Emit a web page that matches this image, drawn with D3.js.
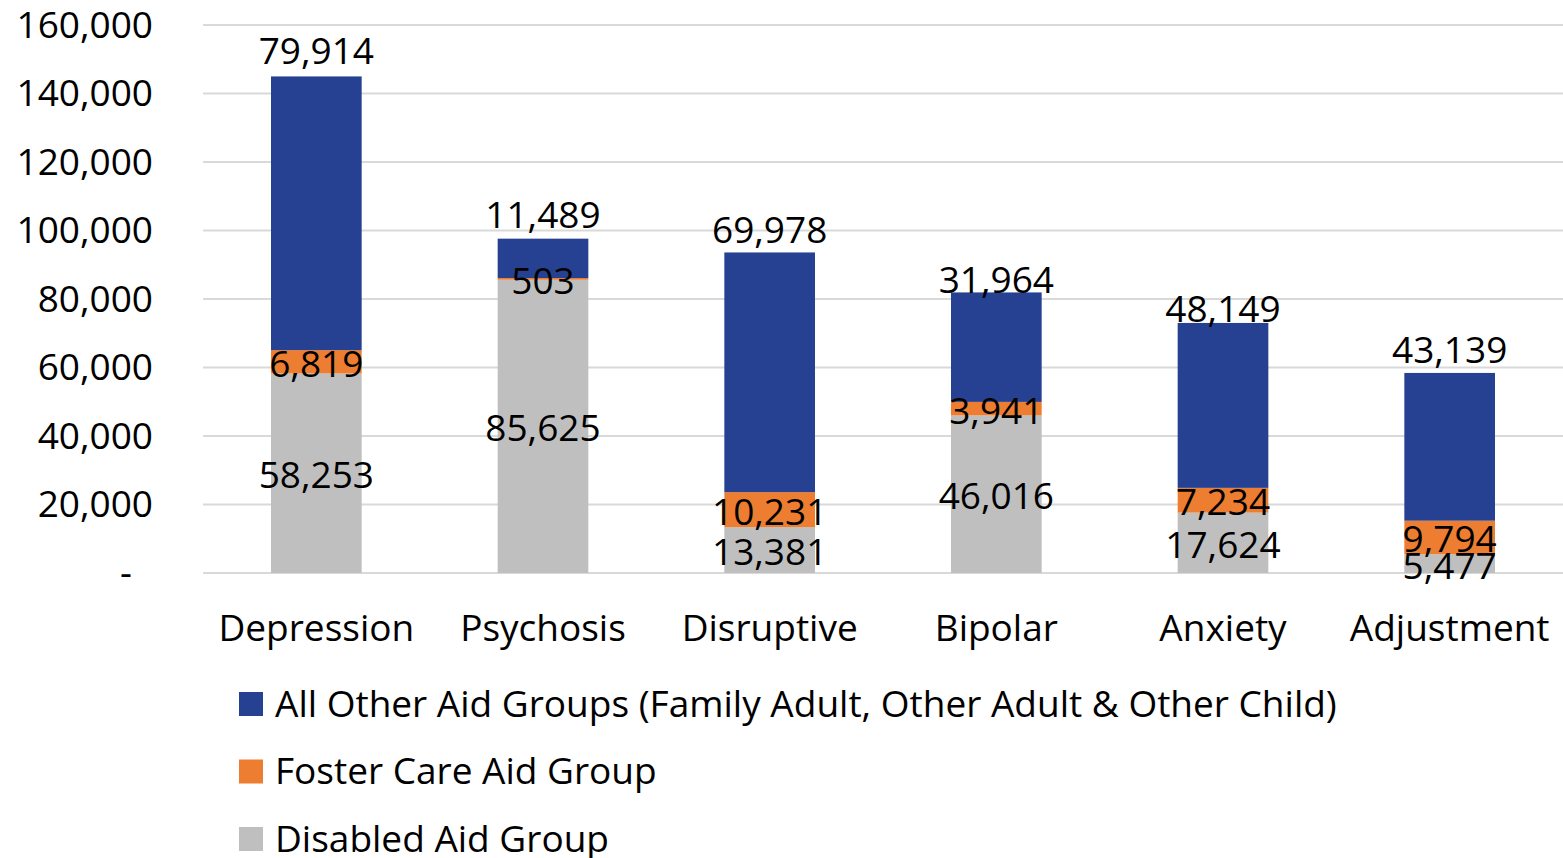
<!DOCTYPE html>
<html><head><meta charset="utf-8">
<script src="https://cdn.jsdelivr.net/npm/d3@7"></script>
<style>body{margin:0;background:#fff}svg{display:block}text{font-family:"Open Sans",Lato,sans-serif;fill:#000}</style>
</head><body><svg id="c" width="1563" height="858"></svg>
<script>
const categories = ["Depression","Psychosis","Disruptive","Bipolar","Anxiety","Adjustment"];
const disabled = [58253,85625,13381,46016,17624,5477];
const foster = [6819,503,10231,3941,7234,9794];
const allOther = [79914,11489,69978,31964,48149,43139];
const yTicks = [0,20000,40000,60000,80000,100000,120000,140000,160000];
const seriesNames = ["All Other Aid Groups (Family Adult, Other Adult & Other Child)","Foster Care Aid Group","Disabled Aid Group"];
// layout: lift of the top labels above each bar (px)
const topLabelLift = [25,24,22,12,14,23];

const colors = {disabled:"#BFBFBF", foster:"#ED7D31", allOther:"#264191"};
const svg = d3.select("#c");
const m = {left:203,right:1563,top:25,bottom:573};
const x = d3.scaleBand().domain(categories).range([m.left,m.right]).paddingInner(0.6).paddingOuter(0.3);
const y = d3.scaleLinear().domain([0,160000]).range([m.bottom,m.top]);
const fs = 37;

// gridlines
svg.append("g").selectAll("line").data(yTicks).join("line")
  .attr("x1",m.left).attr("x2",m.right).attr("y1",d=>y(d)).attr("y2",d=>y(d))
  .attr("stroke","#D9D9D9").attr("stroke-width",2);

// y labels
const fmt = d3.format(",");
svg.append("g").selectAll("text").data(yTicks).join("text")
  .attr("x",d=>d===0?132:153).attr("y",d=>y(d)).attr("dy","0.35em").attr("text-anchor","end")
  .attr("font-size",fs).text(d=>d===0?"-":fmt(d));

const rows = categories.map((c,i)=>({cat:c,disabled:disabled[i],foster:foster[i],allOther:allOther[i]}));
const keys = ["disabled","foster","allOther"];
const stack = d3.stack().keys(keys)(rows);

const g = svg.append("g");
stack.forEach(s=>{
  g.append("g").selectAll("rect").data(s).join("rect")
    .attr("x",d=>x(d.data.cat)).attr("width",x.bandwidth())
    .attr("y",d=>y(d[1])).attr("height",d=>y(d[0])-y(d[1]))
    .attr("fill",colors[s.key]);
});
// labels
stack.forEach(s=>{
  g.append("g").selectAll("text").data(s).join("text")
    .attr("x",d=>x(d.data.cat)+x.bandwidth()/2)
    .attr("y",(d,i)=> s.key==="allOther" ? y(d[1])-topLabelLift[i] : y((d[0]+d[1])/2)+2)
    .attr("dy","0.35em").attr("text-anchor","middle").attr("font-size",fs)
    .text(d=>fmt(d.data[s.key]));
});

// category labels
svg.append("g").selectAll("text").data(categories).join("text")
  .attr("x",d=>x(d)+x.bandwidth()/2).attr("y",628).attr("dy","0.35em")
  .attr("text-anchor","middle").attr("font-size",fs).text(d=>d);

// legend
const legendColors = [colors.allOther,colors.foster,colors.disabled];
const lg = svg.append("g").selectAll("g").data(seriesNames).join("g")
  .attr("transform",(d,i)=>`translate(239,${704+i*67.5})`);
lg.append("rect").attr("x",0).attr("y",-12).attr("width",24).attr("height",24).attr("fill",(d,i)=>legendColors[i]);
lg.append("text").attr("x",36).attr("y",0).attr("dy","0.35em").attr("font-size",fs).text(d=>d);
</script></body></html>
